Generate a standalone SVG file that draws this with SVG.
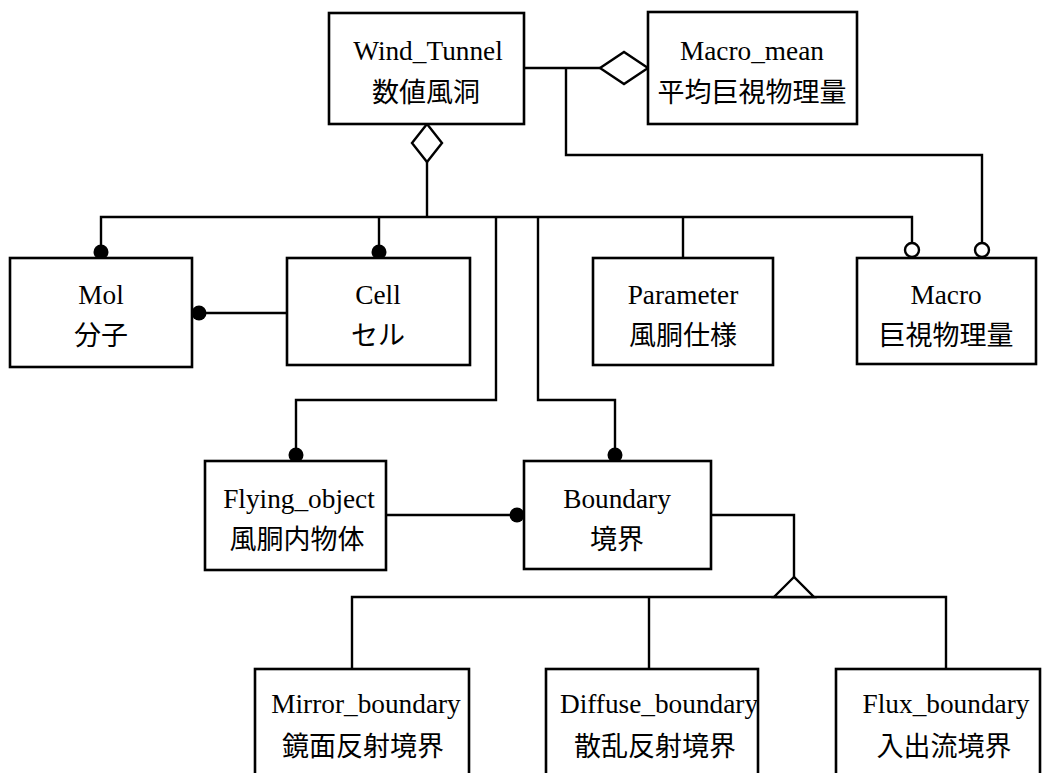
<svg xmlns="http://www.w3.org/2000/svg" width="1042" height="773" viewBox="0 0 1042 773">
<style>
.box{fill:#fff;stroke:#000;stroke-width:2.6}
.en{font-family:"Liberation Serif","Noto Sans CJK JP",serif;font-size:27.3px;fill:#000;text-anchor:middle}
.ja{font-family:"Noto Sans CJK JP","Liberation Serif",sans-serif;font-size:27px;fill:#000;text-anchor:middle}
.ln{fill:none;stroke:#000;stroke-width:2.4;stroke-linejoin:miter}
.dot{fill:#000;stroke:none}
.odot{fill:#fff;stroke:#000;stroke-width:2.4}
.hol{fill:#fff;stroke:#000;stroke-width:2.4}
</style>
<rect width="1042" height="773" fill="#fff"/>
<g id="connectors">
<polyline class="ln" points="524,68 600,68"/>
<polyline class="ln" points="566,68 566,155 982,155 982,250"/>
<polyline class="ln" points="427,162 427,217"/>
<polyline class="ln" points="101,252 101,217 912,217 912,250"/>
<polyline class="ln" points="379,217 379,252"/>
<polyline class="ln" points="683,217 683,258"/>
<polyline class="ln" points="496,217 496,400 296,400 296,455"/>
<polyline class="ln" points="538,217 538,400 615,400 615,455"/>
<polyline class="ln" points="192,313 287,313"/>
<polyline class="ln" points="386,515 518,515"/>
<polyline class="ln" points="711,515 794,515 794,577"/>
<polyline class="ln" points="352,669 352,597 946,597 946,669"/>
<polyline class="ln" points="649,597 649,669"/>
<polygon class="hol" points="427,124 442,143 427,162 412,143"/>
<polygon class="hol" points="600,68 624,52 648,68 624,84"/>
<polygon class="hol" points="794,577 774,597 814,597"/>
<circle class="dot" cx="101" cy="252" r="7.5"/>
<circle class="dot" cx="379" cy="252" r="7.5"/>
<circle class="dot" cx="199" cy="313" r="7.5"/>
<circle class="dot" cx="296" cy="455" r="7.5"/>
<circle class="dot" cx="615" cy="455" r="7.5"/>
<circle class="dot" cx="517" cy="515" r="7.5"/>
<circle class="odot" cx="912" cy="250" r="7"/>
<circle class="odot" cx="982" cy="250" r="7"/>
</g>
<g id="wind_tunnel"><rect class="box" x="329" y="13" width="195" height="111"/><text class="en" x="428" y="60">Wind_Tunnel</text><text class="ja" x="426" y="102">数値風洞</text></g>
<g id="macro_mean"><rect class="box" x="648" y="12" width="209" height="112"/><text class="en" x="752" y="60">Macro_mean</text><text class="ja" x="752" y="102">平均巨視物理量</text></g>
<g id="mol"><rect class="box" x="10" y="258" width="182" height="109"/><text class="en" x="101" y="304">Mol</text><text class="ja" x="101" y="345">分子</text></g>
<g id="cell"><rect class="box" x="287" y="258" width="183" height="107"/><text class="en" x="378" y="304">Cell</text><text class="ja" x="378" y="345">セル</text></g>
<g id="parameter"><rect class="box" x="593" y="258" width="180" height="107"/><text class="en" x="683" y="304">Parameter</text><text class="ja" x="683" y="345">風胴仕様</text></g>
<g id="macro"><rect class="box" x="857" y="258" width="179" height="106"/><text class="en" x="946" y="304">Macro</text><text class="ja" x="946" y="345">巨視物理量</text></g>
<g id="flying_object"><rect class="box" x="205" y="461" width="181" height="109"/><text class="en" x="299" y="508">Flying_object</text><text class="ja" x="297" y="549">風胴内物体</text></g>
<g id="boundary"><rect class="box" x="524" y="461" width="187" height="108"/><text class="en" x="617" y="508">Boundary</text><text class="ja" x="617" y="549">境界</text></g>
<g id="mirror_boundary"><rect class="box" x="255" y="669" width="214" height="115"/><text class="en" x="366" y="713">Mirror_boundary</text><text class="ja" x="363" y="756">鏡面反射境界</text></g>
<g id="diffuse_boundary"><rect class="box" x="546" y="669" width="212" height="115"/><text class="en" x="659" y="713">Diffuse_boundary</text><text class="ja" x="655" y="756">散乱反射境界</text></g>
<g id="flux_boundary"><rect class="box" x="836" y="669" width="204" height="115"/><text class="en" x="946" y="713">Flux_boundary</text><text class="ja" x="944" y="756">入出流境界</text></g>
</svg>
